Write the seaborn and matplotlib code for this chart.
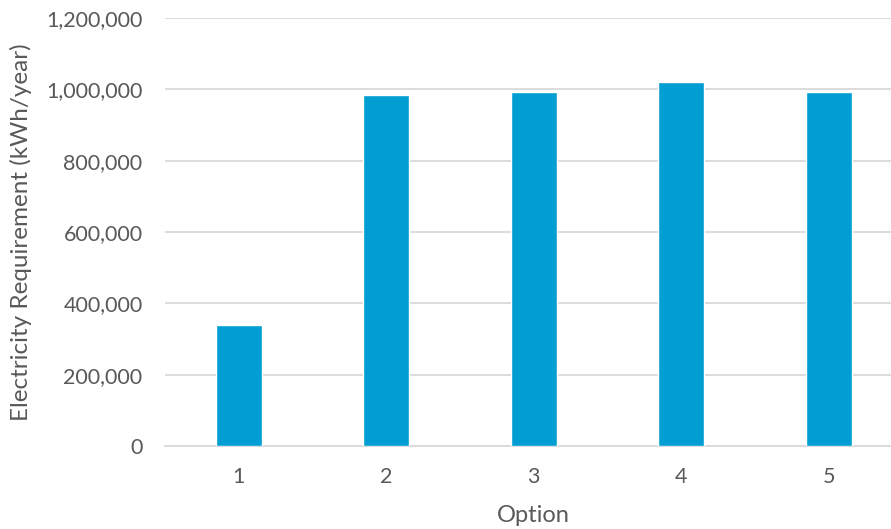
import numpy as np
import pandas as pd
import seaborn as sns
import matplotlib.pyplot as plt
from matplotlib.ticker import FuncFormatter

#########################
# Data
#########################

options = ['1', '2', '3', '4', '5']
electricity = [339000, 984000, 993000, 1020000, 993000]

df = pd.DataFrame({'Option': options, 'Electricity': electricity})

#########################
# Plot
#########################

sns.set_style("white")
plt.rcParams['font.family'] = ['Lato', 'DejaVu Sans']

fig = plt.figure(figsize=(8.91, 5.29), dpi=100)
# axes run a bit past the right edge, like the original
ax = fig.add_axes([0.185, 0.157, 0.828, 0.809])

sns.barplot(data=df, x='Option', y='Electricity', color='#009ED2',
            width=0.312, saturation=1, ax=ax, zorder=3)

ax.set_ylim(0, 1200000)
ax.set_yticks(np.arange(0, 1200001, 200000))
ax.yaxis.set_major_formatter(FuncFormatter(lambda v, p: f'{int(v):,}'))
ax.grid(axis='y', color='#D9D9D9', linewidth=1.3, zorder=0)
ax.set_axisbelow(True)

for s in ['top', 'right', 'left']:
    ax.spines[s].set_visible(False)
ax.spines['bottom'].set_color('#D9D9D9')
ax.spines['bottom'].set_linewidth(1.3)

ax.tick_params(axis='both', length=0, labelsize=15.5, colors='#595959')
ax.tick_params(axis='x', pad=15)
ax.tick_params(axis='y', pad=16)
ax.set_xlabel('Option', fontsize=17, color='#595959', labelpad=13)
ax.set_ylabel('Electricity Requirement (kWh/year)', fontsize=17.5, color='#595959', labelpad=10)

plt.savefig('out.png', dpi=100)
